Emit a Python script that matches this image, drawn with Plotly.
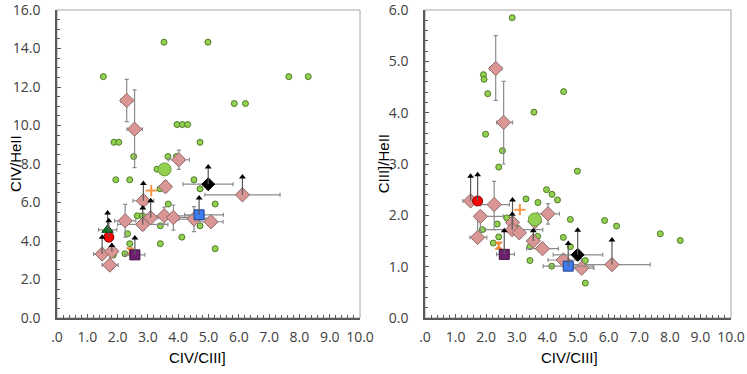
import plotly.graph_objects as go
from plotly.subplots import make_subplots

# ---- data (x = CIV/CIII]) ----
# small green dots
L_DOT_X = [1.53, 3.53, 4.98, 7.65, 8.29, 5.85, 6.22, 3.96, 4.14, 4.31, 1.88, 2.04, 4.72, 2.53, 3.66,
           3.94, 1.94, 2.40, 4.52, 3.30, 3.40, 4.72, 3.67, 5.22, 2.65, 2.82, 4.72, 3.41, 4.72, 2.33,
           4.12, 3.41, 5.22, 2.40, 2.24, 1.86]
L_DOT_Y = [12.54, 14.33, 14.33, 12.54, 12.54, 11.14, 11.14, 10.05, 10.05, 10.05, 9.13, 9.13, 9.13, 8.39, 8.39,
           8.39, 7.18, 7.18, 7.18, 7.73, 6.71, 6.71, 5.92, 5.92, 5.31, 5.31, 5.31, 4.79, 4.79, 4.38,
           4.20, 3.86, 3.60, 3.86, 3.34, 3.27]
R_DOT_X = [2.85, 1.91, 1.93, 2.05, 4.53, 3.56, 1.98, 2.53, 2.41, 4.98, 3.97, 4.15, 4.33, 3.30, 3.69,
           2.67, 4.75, 5.87, 6.26, 7.69, 8.34, 1.87, 2.36, 3.01, 3.68, 4.52, 2.41, 2.23, 3.43, 4.75,
           3.43, 5.24, 4.14, 5.24]
R_DOT_Y = [5.85, 4.74, 4.65, 4.37, 4.41, 4.01, 3.58, 3.26, 2.94, 2.86, 2.50, 2.41, 2.30, 2.32, 2.25,
           1.95, 1.92, 1.90, 1.79, 1.64, 1.51, 1.72, 1.83, 1.75, 1.59, 1.57, 1.58, 1.46, 1.39, 1.39,
           1.12, 1.12, 1.01, 0.68]

# pink diamonds with errors and lower limits (arrow length)
L_DIA_X = [2.30, 2.56, 4.02, 3.58, 2.85, 3.09, 2.83, 3.54, 3.84, 4.52, 5.08, 2.25, 6.12, 1.49, 1.81, 1.74]
L_DIA_Y = [11.30, 9.81, 8.22, 6.82, 6.09, 5.21, 4.86, 5.31, 5.22, 5.14, 5.00, 5.05, 6.40, 3.32, 3.46, 2.75]
L_DIA_EXM = [0.20, 0.25, 0.35, 0.10, 0.34, 0.15, 0.83, 0.60, 0.50, 0.50, 0.37, 0.35, 1.24, 0.28, 0.12, 0.25]
L_DIA_EXP = [0.20, 0.26, 0.35, 0.10, 0.34, 0.15, 0.83, 0.90, 0.60, 0.40, 0.40, 0.35, 1.24, 0.28, 0.12, 0.28]
L_DIA_EYM = [1.10, 2.00, 0.50, 0.30, 0.40, 0.00, 0.30, 0.45, 0.65, 0.65, 0.00, 0.85, 0.00, 0.00, 0.00, 0.00]
L_DIA_EYP = [1.10, 2.04, 0.50, 0.30, 0.00, 0.00, 0.00, 0.45, 0.65, 0.65, 0.00, 0.85, 0.00, 0.00, 0.00, 0.80]
L_DIA_LIM = [0, 0, 0, 0, 0.90, 0.88, 0.85, 0, 0, 0, 0, 0, 0.92, 0.88, 0.30, 0]

R_DIA_X = [2.31, 2.57, 1.49, 1.81, 2.26, 1.72, 2.86, 2.85, 3.08, 3.59, 4.02, 3.54, 3.84, 4.52, 5.12, 6.11]
R_DIA_Y = [4.86, 3.81, 2.28, 1.98, 2.21, 1.57, 1.86, 1.72, 1.66, 1.88, 2.03, 1.50, 1.35, 1.13, 0.97, 1.04]
R_DIA_EXM = [0.20, 0.23, 0.25, 0.12, 0.44, 0.25, 0.15, 0.87, 0.15, 0.10, 0.35, 0.15, 0.52, 0.50, 0.40, 1.26]
R_DIA_EXP = [0.20, 0.29, 0.32, 0.75, 0.50, 0.30, 0.15, 1.00, 0.15, 0.10, 0.37, 0.15, 0.52, 0.60, 0.40, 1.25]
R_DIA_EYM = [0.62, 0.81, 0.00, 0.30, 0.49, 0.00, 0.00, 0.00, 0.00, 0.00, 0.20, 0.00, 0.00, 0.00, 0.00, 0.00]
R_DIA_EYP = [0.64, 0.80, 0.00, 0.00, 0.45, 0.45, 0.00, 0.00, 0.00, 0.00, 0.20, 0.00, 0.00, 0.00, 0.00, 0.00]
R_DIA_LIM = [0, 0, 0.48, 0, 0, 0, 0.44, 0.30, 0, 0, 0, 0.20, 0, 0, 0, 0.48]

# individual objects: big green, orange plus, orange bowtie, purple, red, triangle, blue, black
SP_NAMES = ["big", "plus", "bowtie", "purple", "red", "triangle", "blue", "black"]
L_SP_X = [3.55, 3.11, 2.41, 2.57, 1.71, 1.67, 4.69, 4.99]
L_SP_Y = [7.72, 6.62, 3.46, 3.28, 4.20, 4.58, 5.36, 6.95]
L_SP_EXM = [0, 0, 0, 0.33, 0, 0.30, 0.48, 0.83]
L_SP_EXP = [0, 0, 0, 0.33, 0, 0.30, 0.80, 0.82]
L_SP_LIM = [0, 0, 0, 0.87, 0.85, 0.87, 0.87, 0.90]
R_SP_X = [3.59, 3.10, 2.41, 2.59, 1.72, None, 4.68, 4.99]
R_SP_Y = [1.92, 2.11, 1.41, 1.24, 2.28, None, 1.01, 1.23]
R_SP_EXM = [0, 0, 0, 0.25, 0, 0, 0.82, 0.80]
R_SP_EXP = [0, 0, 0, 0.33, 0, 0, 0.82, 0.82]
R_SP_LIM = [0, 0, 0, 0.46, 0.51, 0, 0.44, 0.48]

X_TICKS = [0, 1, 2, 3, 4, 5, 6, 7, 8, 9, 10]
X_TICKTEXT = [".0", "1.0", "2.0", "3.0", "4.0", "5.0", "6.0", "7.0", "8.0", "9.0", "10.0"]

STYLE = {
    "big": dict(symbol="circle", size=13, color="#92D050", line=dict(color="#6E9E3C", width=1)),
    "plus": dict(symbol="cross-thin", size=8, color="#F79646", line=dict(color="#F79646", width=2)),
    "bowtie": dict(symbol="hourglass", size=7, color="#F79646", line=dict(color="#E07B2A", width=1)),
    "purple": dict(symbol="square", size=10, color="#6F1F6F", line=dict(color="#3A0F3A", width=1)),
    "red": dict(symbol="circle", size=10, color="#FF0000", line=dict(color="#7F0000", width=1)),
    "triangle": dict(symbol="triangle-up", size=10, color="#0A7A1E", line=dict(color="#064010", width=1)),
    "blue": dict(symbol="square", size=10, color="#3C7BF0", line=dict(color="#1F3F80", width=1)),
    "black": dict(symbol="diamond", size=10, color="#000000", line=dict(color="#000000", width=1)),
}
ERR = "#8C8C8C"

fig = make_subplots(rows=1, cols=2)


def err(minus, plus, sym_w=2):
    return dict(type="data", symmetric=False, array=plus, arrayminus=minus,
                color=ERR, thickness=1.2, width=sym_w)


def panel(col, dx, dy, dia, sp):
    fig.add_trace(go.Scatter(x=dx, y=dy, mode="markers", showlegend=False,
                             marker=dict(size=6, color="#92D050", line=dict(color="#4F7A28", width=1))),
                  row=1, col=col)
    x, y, exm, exp, eym, eyp, lim = dia
    fig.add_trace(go.Scatter(x=x, y=y, mode="markers", showlegend=False,
                             error_x=err(exm, exp), error_y=err(eym, eyp),
                             marker=dict(symbol="diamond", size=11, color="#D99694",
                                         line=dict(color="#8C6B6A", width=1))),
                  row=1, col=col)
    sx, sy, sexm, sexp, slim = sp
    for i, name in enumerate(SP_NAMES):
        if sx[i] is None:
            continue
        st = STYLE[name]
        fig.add_trace(go.Scatter(x=[sx[i]], y=[sy[i]], mode="markers", showlegend=False,
                                 error_x=err([sexm[i]], [sexp[i]]) if sexm[i] else None,
                                 marker=dict(symbol=st["symbol"], size=st["size"], color=st["color"],
                                             line=st["line"])),
                      row=1, col=col)
    # lower-limit arrows
    ax, ay, al = [], [], []
    for xs, ys, ls in ((x, y, lim), (sx, sy, slim)):
        for xi, yi, li in zip(xs, ys, ls):
            if xi is not None and li:
                ax.append(xi)
                ay.append(yi + li)
                al.append(li)
    fig.add_trace(go.Scatter(x=ax, y=ay, mode="markers", showlegend=False,
                             error_y=dict(type="data", symmetric=False, array=[0] * len(al), arrayminus=al,
                                          color="#595959", thickness=1.2, width=0),
                             marker=dict(symbol="triangle-up", size=6, color="#000000")),
                  row=1, col=col)


panel(1, L_DOT_X, L_DOT_Y, (L_DIA_X, L_DIA_Y, L_DIA_EXM, L_DIA_EXP, L_DIA_EYM, L_DIA_EYP, L_DIA_LIM),
      (L_SP_X, L_SP_Y, L_SP_EXM, L_SP_EXP, L_SP_LIM))
panel(2, R_DOT_X, R_DOT_Y, (R_DIA_X, R_DIA_Y, R_DIA_EXM, R_DIA_EXP, R_DIA_EYM, R_DIA_EYP, R_DIA_LIM),
      (R_SP_X, R_SP_Y, R_SP_EXM, R_SP_EXP, R_SP_LIM))

tickfont = dict(family="Open Sans", size=14, color="#404040")
titlefont = dict(family="Liberation Sans", size=15, color="#000000")
axis_common = dict(showgrid=False, zeroline=False, showline=True, linecolor="#595959", linewidth=1.5,
                   ticks="inside", ticklen=4, tickcolor="#595959", tickfont=tickfont, automargin=False,
                   ticklabeloverflow="allow")

fig.update_xaxes(range=[0, 10], tickvals=X_TICKS, ticktext=X_TICKTEXT, ticklabelstandoff=5,
                 minor=dict(dtick=0.2, ticks="inside", ticklen=3, tickcolor="#595959"), **axis_common)
fig.update_xaxes(domain=[0, 0.4496], row=1, col=1)
fig.update_xaxes(domain=[0.546, 1.0], row=1, col=2)
fig.update_yaxes(range=[0, 16], dtick=2, tickformat=".1f", ticklabelstandoff=12,
                 minor=dict(dtick=0.5, ticks="inside", ticklen=3, tickcolor="#595959"),
                 row=1, col=1, **axis_common)
fig.update_yaxes(range=[0, 6], dtick=1, tickformat=".1f", ticklabelstandoff=12,
                 minor=dict(dtick=0.2, ticks="inside", ticklen=3, tickcolor="#595959"),
                 row=1, col=2, **axis_common)

for xr, yr in (("x domain", "y domain"), ("x2 domain", "y2 domain")):
    fig.add_shape(type="rect", xref=xr, yref=yr, x0=0, x1=1, y0=0, y1=1,
                  line=dict(color="#A6A6A6", width=1), layer="below")

# axis titles
for text, ax_x, ax_y, angle in (("CIV/HeII", -0.0623, 0.5, -90), ("CIII]/HeII", 0.484, 0.5, -90),
                                ("CIV/CIII]", 0.208, -0.127, 0), ("CIV/CIII]", 0.761, -0.127, 0)):
    fig.add_annotation(text=text, x=ax_x, y=ax_y, xref="paper", yref="paper", showarrow=False,
                       xanchor="center", yanchor="middle", textangle=angle, font=titlefont)

fig.update_layout(width=747, height=374, paper_bgcolor="white", plot_bgcolor="white",
                  margin=dict(l=57, r=16, t=10, b=56))

fig.write_html("out.html", config={"displayModeBar": False},
               post_script="document.body.style.margin='0';")
